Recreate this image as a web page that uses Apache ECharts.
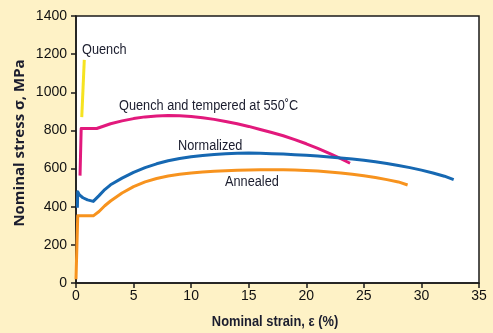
<!DOCTYPE html>
<html><head><meta charset="utf-8">
<script src="https://cdn.jsdelivr.net/npm/echarts@6/dist/echarts.min.js"></script>
<style>html,body{margin:0;padding:0;background:#fef2c6;}#c{width:493px;height:333px;}</style>
</head><body><div id="c"></div>
<script>
const xTicks = [0,5,10,15,20,25,30,35];
const yTicks = [0,200,400,600,800,1000,1200,1400];
const quench = [[0.5,870],[0.72,1170]];
const quenchTempered = [[0.35,563],[0.45,810],[1.8,810],[3,835],[4,850],[5,862],[6,871],[7,876],[8,878],[9,877],[10,873],[11,866],[12,858],[13,847],[14,835],[15,821],[16,805],[17,789],[18,772],[19,752],[20,730],[21,706],[22,680],[23,652],[23.8,628]];
const normalized = [[0.12,395],[0.15,478],[0.3,462],[0.6,447],[1,436],[1.5,428],[2,458],[2.5,490],[3,515],[4,550],[5,580],[6,605],[7,625],[8,641],[9,653],[10,662],[11,669],[12,674],[13,678],[14,680],[15,681],[16,680],[17,678],[18,676],[19,673],[20,670],[21,666],[22,661],[23,656],[24,650],[25,644],[26,636],[27,627],[28,616],[29,605],[30,592],[31,577],[32,560],[32.8,542]];
const annealed = [[0,20],[0.15,352],[1.5,352],[2,375],[2.5,405],[3,430],[4,472],[5,505],[6,530],[7,548],[8,561],[9,570],[10,577],[11,582],[12,586],[13,589],[14,591],[15,593],[16,594],[17,594],[18,594],[19,592],[20,590],[21,587],[22,582],[23,577],[24,570],[25,562],[26,553],[27,542],[28,530],[28.8,514]];
const seriesNames = ['Quench','Quench and tempered at 550˚C','Normalized','Annealed'];
const xName = 'Nominal strain, ε (%)';
const yName = 'Nominal stress σ, MPa';

const font = '"Liberation Sans", Arial, sans-serif';
const chart = echarts.init(document.getElementById('c'));
function mk(name, data, color){
  return {name, type:'line', data, showSymbol:false, symbol:'none', smooth:false,
    lineStyle:{color, width:3, cap:'butt', join:'round'}, itemStyle:{color}, animation:false, z:3};
}
function label(text, x, y){
  return {type:'text', x, y, scaleX:0.91, scaleY:1, originX:0, originY:0,
    style:{text, font:'14px '+font, fill:'#1b1d2e', textAlign:'left', textVerticalAlign:'middle'}};
}
chart.setOption({
  backgroundColor:'#fef2c6',
  animation:false,
  grid:{left:76, right:14, top:16, bottom:50, show:true, backgroundColor:'#ffffff', borderColor:'#1a1a1a', borderWidth:1.5},
  xAxis:{type:'value', min:xTicks[0], max:xTicks[xTicks.length-1], interval:5,
    axisLine:{lineStyle:{color:'#1a1a1a', width:1.5}},
    axisTick:{show:true, inside:false, length:5, lineStyle:{color:'#1a1a1a', width:1.5}},
    axisLabel:{fontFamily:font, fontSize:14, color:'#111', margin:6, formatter:v=>String(v)},
    splitLine:{show:false}},
  yAxis:{type:'value', min:yTicks[0], max:yTicks[yTicks.length-1], interval:200,
    axisLine:{show:true, lineStyle:{color:'#1a1a1a', width:1.5}},
    axisTick:{show:true, inside:false, length:5, lineStyle:{color:'#1a1a1a', width:1.5}},
    axisLabel:{fontFamily:font, fontSize:14, color:'#111', margin:9, formatter:v=>String(v)},
    splitLine:{show:false}},
  series:[
    mk(seriesNames[0], quench, '#f6e320'),
    mk(seriesNames[1], quenchTempered, '#e2197c'),
    mk(seriesNames[2], normalized, '#1668b2'),
    mk(seriesNames[3], annealed, '#f7931e')
  ],
  graphic:[
    label(seriesNames[0], 82, 50),
    label(seriesNames[1], 119, 106),
    label(seriesNames[2], 178, 146),
    label(seriesNames[3], 225, 182),
    {type:'text', x:275, y:322, scaleX:0.92, scaleY:1,
      style:{text:xName, font:'bold 14px '+font, fill:'#1b1d2e', textAlign:'center', textVerticalAlign:'middle'}},
    {type:'text', x:20, y:143, rotation:Math.PI/2, scaleX:1, scaleY:1,
      style:{text:yName, font:'bold 15px "Open Sans", '+font, fill:'#1b1d2e', textAlign:'center', textVerticalAlign:'middle'}}
  ]
});
</script></body></html>
